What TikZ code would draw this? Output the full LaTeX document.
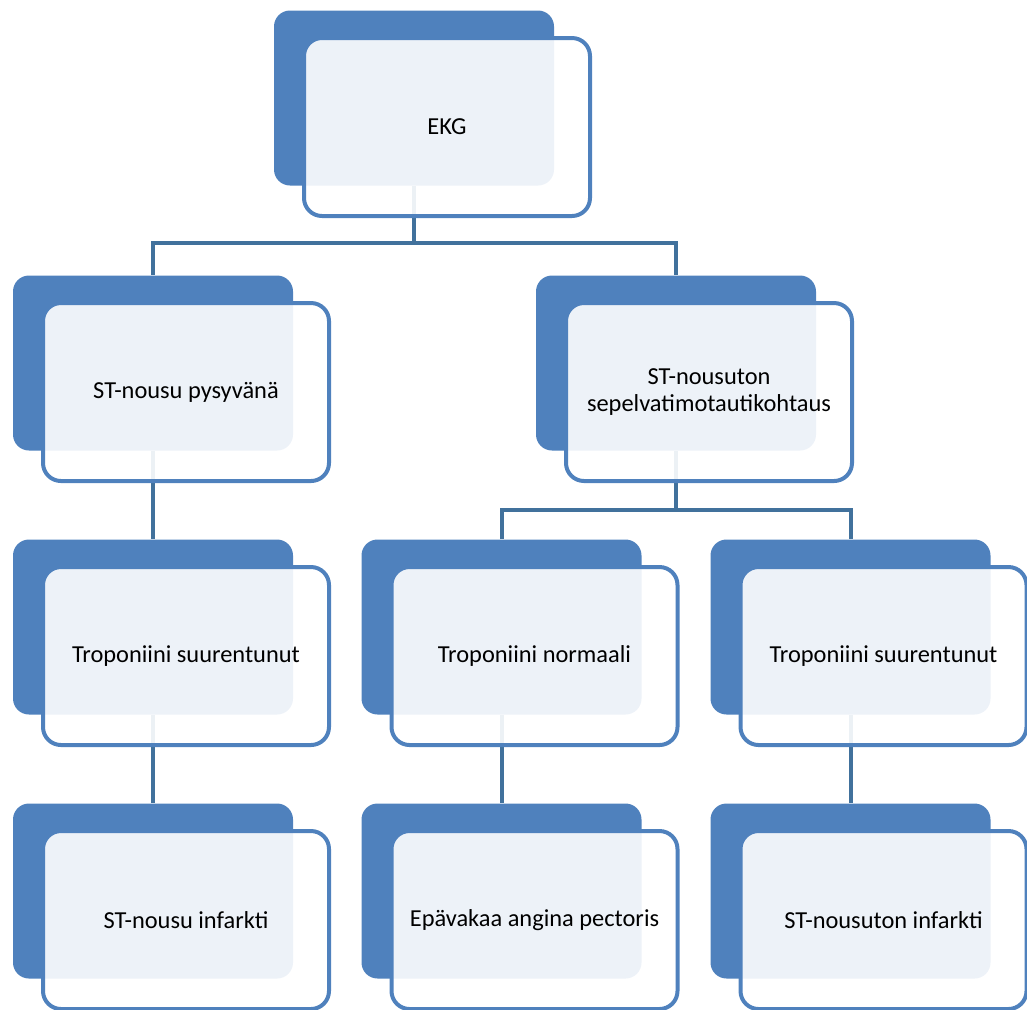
\documentclass[tikz,border=0pt]{standalone}
\usepackage{fontspec}
\setmainfont{Carlito}
\definecolor{boxblue}{HTML}{4F81BD}
\definecolor{lineblue}{HTML}{41719C}
\tikzset{
    backbox/.style={fill=boxblue, rounded corners=8pt, minimum width=140pt, minimum height=87.5pt, inner sep=0pt},
    frontbox/.style={draw=boxblue, line width=2pt, fill=white, fill opacity=0.9, text opacity=1, rounded corners=9pt,
        minimum width=143pt, minimum height=89pt, inner sep=0pt, align=center, text=black,
        font=\fontsize{12.2}{13.5}\selectfont},
    conn/.style={draw=lineblue, line width=2pt}
}
\begin{document}
\begin{tikzpicture}[x=0.5pt, y=-0.5pt]
            \useasboundingbox (0,0) rectangle (1027,1009);
            \node[backbox] (b0) at (414,98) {};
            \node[backbox] (b1) at (153,363) {};
            \node[backbox] (b2) at (676,363) {};
            \node[backbox] (b3) at (153,627) {};
            \node[backbox] (b4) at (501.5,627) {};
            \node[backbox] (b5) at (850.5,627) {};
            \node[backbox] (b6) at (153,891) {};
            \node[backbox] (b7) at (501.5,891) {};
            \node[backbox] (b8) at (850.5,891) {};

            \coordinate (bar0) at (0,243);
            \coordinate (bar2) at (0,510);
            \draw[conn] (b0.south) -- (b0.south |- bar0) -| (b1.north);
            \draw[conn] (b0.south |- bar0) -| (b2.north);
            \draw[conn] (b2.south) -- (b2.south |- bar2) -| (b4.north);
            \draw[conn] (b2.south |- bar2) -| (b5.north);
            \draw[conn] (b1.south) -- (b3.north);
            \draw[conn] (b3.south) -- (b6.north);
            \draw[conn] (b4.south) -- (b7.north);
            \draw[conn] (b5.south) -- (b8.north);

            \node[frontbox] (f0) at ([shift={(16.5pt,-14.5pt)}]b0.center) {EKG};
            \node[frontbox] (f1) at ([shift={(16.5pt,-14.5pt)}]b1.center) {ST-nousu pysyvänä};
            \node[frontbox] (f2) at ([shift={(16.5pt,-14.5pt)}]b2.center) {ST-nousuton\\sepelvatimotautikohtaus};
            \node[frontbox] (f3) at ([shift={(16.5pt,-14.5pt)}]b3.center) {Troponiini suurentunut};
            \node[frontbox] (f4) at ([shift={(16.5pt,-14.5pt)}]b4.center) {Troponiini normaali};
            \node[frontbox] (f5) at ([shift={(16.5pt,-14.5pt)}]b5.center) {Troponiini suurentunut};
            \node[frontbox] (f6) at ([shift={(16.5pt,-14.5pt)}]b6.center) {ST-nousu infarkti};
            \node[frontbox] (f7) at ([shift={(16.5pt,-14.5pt)}]b7.center) {Epävakaa angina pectoris};
            \node[frontbox] (f8) at ([shift={(16.5pt,-14.5pt)}]b8.center) {ST-nousuton infarkti};
\end{tikzpicture}
\end{document}
